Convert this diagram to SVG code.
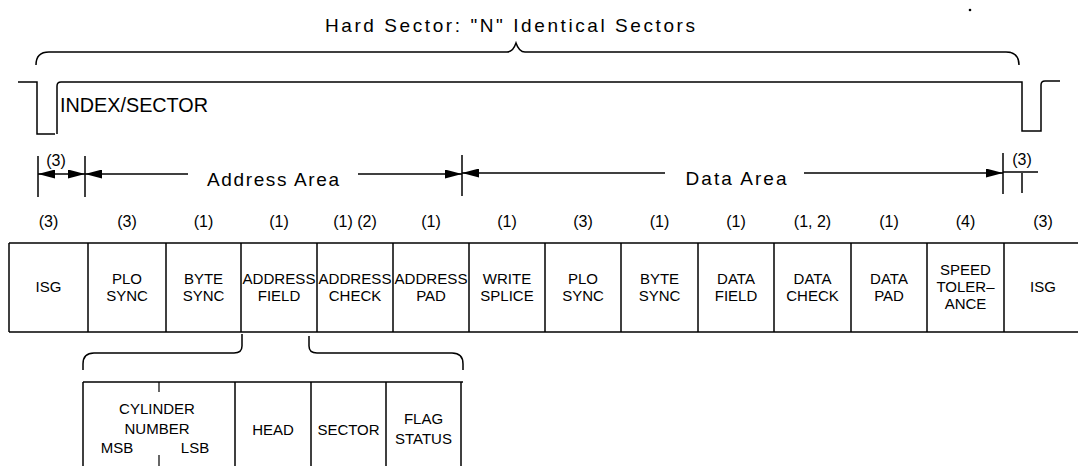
<svg xmlns="http://www.w3.org/2000/svg" width="1078" height="466" viewBox="0 0 1078 466">
<defs>
<style>
.ln{stroke:#000;stroke-width:1.5;fill:none}
.th{stroke:#000;stroke-width:1.2;fill:none}
.t{font-family:"Liberation Sans",Arial,sans-serif;fill:#000;text-anchor:middle}
.bx{font-size:15px}
.lb{font-size:16px}
.sub{font-size:15px}
.big{font-size:19px}
</style>
<marker id="ah" viewBox="0 0 17 9" refX="17" refY="4.5" markerWidth="17" markerHeight="9" markerUnits="userSpaceOnUse" orient="auto-start-reverse">
<path d="M0,0 L17,4.5 L0,9 Z" fill="#000"/>
</marker>
</defs>
<rect width="1078" height="466" fill="#fff"/>

<g id="title">
<text class="t big" x="510" y="32" textLength="370" lengthAdjust="spacing">Hard Sector: "N" Identical Sectors</text>
<circle cx="970" cy="10" r="1.3" fill="#000"/>
</g>

<g id="connectors">
<path id="top-brace" class="ln" d="M36,65 Q36,52 49,52 L507,52 Q513,52 516,43 Q519,52 525,52 L1006,52 Q1019,52 1019,65"/>
<path id="index-signal" class="ln" d="M18,82 L37,82 L37,134 L55,134 M57,134 L57,86 Q57,82 61,82 L1022,82 L1022,131 L1041,131 L1041,85 Q1041,81 1045,81 L1060,81"/>
<line class="ln" x1="38" y1="156" x2="38" y2="197"/>
<line class="ln" x1="85" y1="156" x2="85" y2="197"/>
<line class="ln" x1="462" y1="155" x2="462" y2="196"/>
<line class="ln" x1="1003" y1="153" x2="1003" y2="194"/>
<line class="ln" x1="1022" y1="173" x2="1022" y2="193"/>
<line class="ln" x1="38" y1="174" x2="85" y2="174" marker-start="url(#ah)" marker-end="url(#ah)"/>
<line class="ln" x1="85" y1="174" x2="188" y2="174" marker-start="url(#ah)"/>
<line class="ln" x1="358" y1="174" x2="462" y2="174" marker-end="url(#ah)"/>
<line class="ln" x1="462" y1="173" x2="665" y2="173" marker-start="url(#ah)"/>
<line class="ln" x1="804" y1="173" x2="1003" y2="173" marker-end="url(#ah)"/>
<line class="ln" x1="1003" y1="172" x2="1038" y2="172"/>
<path id="brace-left" class="ln" d="M242,334 L242,346 Q242,353 234,353 L94,353 Q83,353 83,364 L83,370"/>
<path id="brace-right" class="ln" d="M309,336 L309,346 Q309,353 317,353 L452,353 Q463,353 463,364 L463,370"/>
</g>

<g id="labels">
<text class="t" x="60" y="112" style="font-size:20px;text-anchor:start" textLength="148" lengthAdjust="spacingAndGlyphs">INDEX/SECTOR</text>
<text class="t lb" x="56" y="166">(3)</text>
<text class="t" x="273" y="186" style="font-size:19px" textLength="132" lengthAdjust="spacing">Address Area</text>
<text class="t" x="736" y="185" style="font-size:19px" textLength="101" lengthAdjust="spacing">Data Area</text>
<text class="t lb" x="1022" y="165">(3)</text>
</g>

<g id="sizes" class="t lb">
<text x="48.5" y="227">(3)</text>
<text x="127" y="227">(3)</text>
<text x="203.5" y="227">(1)</text>
<text x="279" y="227">(1)</text>
<text x="355" y="227">(1) (2)</text>
<text x="431" y="227">(1)</text>
<text x="507" y="227">(1)</text>
<text x="583" y="227">(3)</text>
<text x="659.5" y="227">(1)</text>
<text x="736" y="227">(1)</text>
<text x="812.5" y="227">(1, 2)</text>
<text x="889" y="227">(1)</text>
<text x="965.5" y="227">(4)</text>
<text x="1043" y="227">(3)</text>
</g>

<g id="row-frame">
<line class="ln" x1="9" y1="243" x2="1078" y2="243"/>
<line class="ln" x1="9" y1="332" x2="1078" y2="332"/>
</g>
<g id="isg1"><line class="ln" x1="9" y1="243" x2="9" y2="332"/><text class="t bx" x="48.5" y="292">ISG</text></g>
<g id="plo-sync1"><line class="ln" x1="88" y1="243" x2="88" y2="332"/><text class="t bx" x="127" y="284">PLO</text><text class="t bx" x="127" y="301">SYNC</text></g>
<g id="byte-sync1"><line class="ln" x1="166" y1="243" x2="166" y2="332"/><text class="t bx" x="203.5" y="284">BYTE</text><text class="t bx" x="203.5" y="301">SYNC</text></g>
<g id="address-field"><line class="ln" x1="241" y1="243" x2="241" y2="332"/><text class="t bx" x="279" y="284" textLength="73" lengthAdjust="spacingAndGlyphs">ADDRESS</text><text class="t bx" x="279" y="301">FIELD</text></g>
<g id="address-check"><line class="ln" x1="317" y1="243" x2="317" y2="332"/><text class="t bx" x="355" y="284" textLength="73" lengthAdjust="spacingAndGlyphs">ADDRESS</text><text class="t bx" x="355" y="301">CHECK</text></g>
<g id="address-pad"><line class="ln" x1="393" y1="243" x2="393" y2="332"/><text class="t bx" x="431" y="284" textLength="73" lengthAdjust="spacingAndGlyphs">ADDRESS</text><text class="t bx" x="431" y="301">PAD</text></g>
<g id="write-splice"><line class="ln" x1="469" y1="243" x2="469" y2="332"/><text class="t bx" x="507" y="284">WRITE</text><text class="t bx" x="507" y="301">SPLICE</text></g>
<g id="plo-sync2"><line class="ln" x1="545" y1="243" x2="545" y2="332"/><text class="t bx" x="583" y="284">PLO</text><text class="t bx" x="583" y="301">SYNC</text></g>
<g id="byte-sync2"><line class="ln" x1="621" y1="243" x2="621" y2="332"/><text class="t bx" x="659.5" y="284">BYTE</text><text class="t bx" x="659.5" y="301">SYNC</text></g>
<g id="data-field"><line class="ln" x1="698" y1="243" x2="698" y2="332"/><text class="t bx" x="736" y="284">DATA</text><text class="t bx" x="736" y="301">FIELD</text></g>
<g id="data-check"><line class="ln" x1="774" y1="243" x2="774" y2="332"/><text class="t bx" x="812.5" y="284">DATA</text><text class="t bx" x="812.5" y="301">CHECK</text></g>
<g id="data-pad"><line class="ln" x1="851" y1="243" x2="851" y2="332"/><text class="t bx" x="889" y="284">DATA</text><text class="t bx" x="889" y="301">PAD</text></g>
<g id="speed-tolerance"><line class="ln" x1="927" y1="243" x2="927" y2="332"/><text class="t bx" x="965.5" y="275">SPEED</text><text class="t bx" x="965.5" y="292">TOLER–</text><text class="t bx" x="965.5" y="309">ANCE</text></g>
<g id="isg2"><line class="ln" x1="1004" y1="243" x2="1004" y2="332"/><text class="t bx" x="1043" y="292">ISG</text></g>

<g id="sub-frame"><line class="ln" x1="83" y1="382" x2="463" y2="382"/></g>
<g id="cylinder-number">
<line class="ln" x1="83" y1="382" x2="83" y2="466"/>
<line class="th" x1="159" y1="382" x2="159" y2="392"/>
<line class="th" x1="159" y1="455" x2="159" y2="466"/>
<text class="t sub" x="157" y="414">CYLINDER</text>
<text class="t sub" x="157" y="434">NUMBER</text>
<text class="t sub" x="117" y="453">MSB</text>
<text class="t sub" x="195" y="453">LSB</text>
</g>
<g id="head"><line class="ln" x1="235" y1="382" x2="235" y2="466"/><text class="t sub" x="273" y="435">HEAD</text></g>
<g id="sector"><line class="ln" x1="311" y1="382" x2="311" y2="466"/><text class="t sub" x="348.5" y="435">SECTOR</text></g>
<g id="flag-status"><line class="ln" x1="386" y1="382" x2="386" y2="466"/><line class="ln" x1="461" y1="382" x2="461" y2="466"/><text class="t sub" x="423.5" y="424">FLAG</text><text class="t sub" x="423.5" y="444">STATUS</text></g>
</svg>
